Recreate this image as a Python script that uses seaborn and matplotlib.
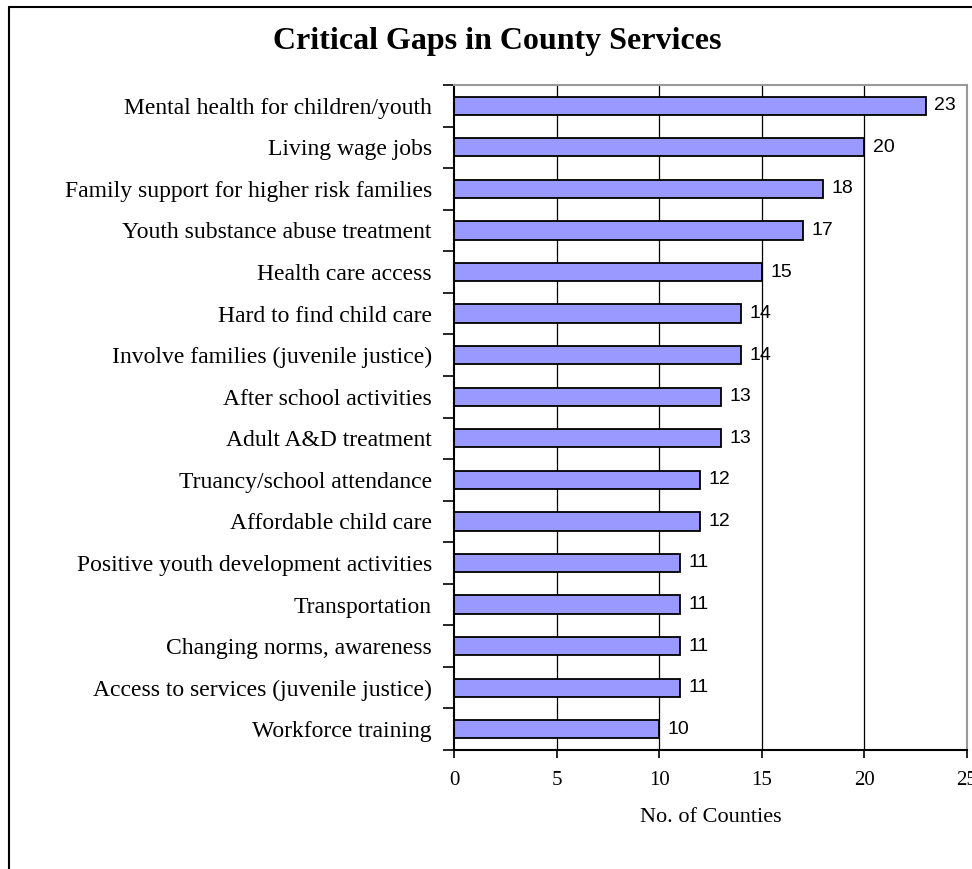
import matplotlib
matplotlib.use("Agg")
import matplotlib.pyplot as plt
import seaborn as sns
import pandas as pd
import numpy as np
from matplotlib.lines import Line2D
from matplotlib.ticker import FixedLocator

categories = [
    "Mental health for children/youth",
    "Living wage jobs",
    "Family support for higher risk families",
    "Youth substance abuse treatment",
    "Health care access",
    "Hard to find child care",
    "Involve families (juvenile justice)",
    "After school activities",
    "Adult A&D treatment",
    "Truancy/school attendance",
    "Affordable child care",
    "Positive youth development activities",
    "Transportation",
    "Changing norms, awareness",
    "Access to services (juvenile justice)",
    "Workforce training",
]
counts = [23, 20, 18, 17, 15, 14, 14, 13, 13, 12, 12, 11, 11, 11, 11, 10]
x_ticks = [0, 5, 10, 15, 20, 25]

df = pd.DataFrame({"category": categories, "count": counts})

sns.set_style("white")
plt.rcParams.update({"text.color": "black", "xtick.color": "black",
                     "ytick.color": "black", "axes.labelcolor": "black"})
serif = ["Liberation Serif", "DejaVu Serif"]
sans = ["Liberation Sans", "DejaVu Sans"]

fig = plt.figure(figsize=(9.72, 8.69), dpi=100)
ax = fig.add_axes([454/972, 1-750/869, (967-454)/972, (750-85)/869])

sns.barplot(data=df, x="count", y="category", orient="h", color="#9999FF",
            saturation=1, width=0.44, edgecolor="black", linewidth=1.3, ax=ax)

n = len(categories)
ax.set_xlim(0, 25)
ax.set_ylim(n - 0.5, -0.5)

# gridlines
for xv in x_ticks[1:-1]:
    ax.axvline(xv, color="black", linewidth=0.9, zorder=0)

# y ticks at boundaries, labels at centers
ax.yaxis.set_major_locator(FixedLocator(np.arange(-0.5, n, 1.0)))
ax.yaxis.set_major_formatter(plt.NullFormatter())
ax.yaxis.set_minor_locator(FixedLocator(np.arange(n)))
ax.set_yticklabels(categories, minor=True, fontfamily=serif, fontsize=17, color="black")
ax.tick_params(axis="y", which="major", direction="out", length=8, width=1.2, color="black", left=True)
ax.tick_params(axis="y", which="minor", length=0, pad=16)

ax.set_xticks(x_ticks)
ax.set_xticklabels([str(v) for v in x_ticks], fontfamily=serif, fontsize=15, color="black")
ax.tick_params(axis="x", direction="out", length=6, width=1.2, color="black", bottom=True, pad=9)

ax.set_ylabel("")
ax.set_xlabel("No. of Counties", fontfamily=serif, fontsize=16, labelpad=13, color="black")

for s in ["left", "bottom"]:
    ax.spines[s].set_color("black")
    ax.spines[s].set_linewidth(1.5)
for s in ["top", "right"]:
    ax.spines[s].set_color("#999999")
    ax.spines[s].set_linewidth(1.5)
    ax.spines[s].set_visible(True)

for i, v in enumerate(counts):
    ax.annotate(str(v), xy=(v, i), xytext=(6, 0), textcoords="offset points",
                va="center", ha="left", fontfamily=sans, fontsize=14, color="black")

fig.text(497/972, 1-41/869, "Critical Gaps in County Services", ha="center", va="center",
         fontfamily=serif, fontsize=23, fontweight="bold", color="black")

# outer frame (partially visible)
fig.add_artist(Line2D([9/972, 1.0], [1-7/869, 1-7/869], transform=fig.transFigure, color="black", linewidth=1.5))
fig.add_artist(Line2D([9/972, 9/972], [0.0, 1-7/869], transform=fig.transFigure, color="black", linewidth=1.5))

fig.savefig("out.png", dpi=100)
